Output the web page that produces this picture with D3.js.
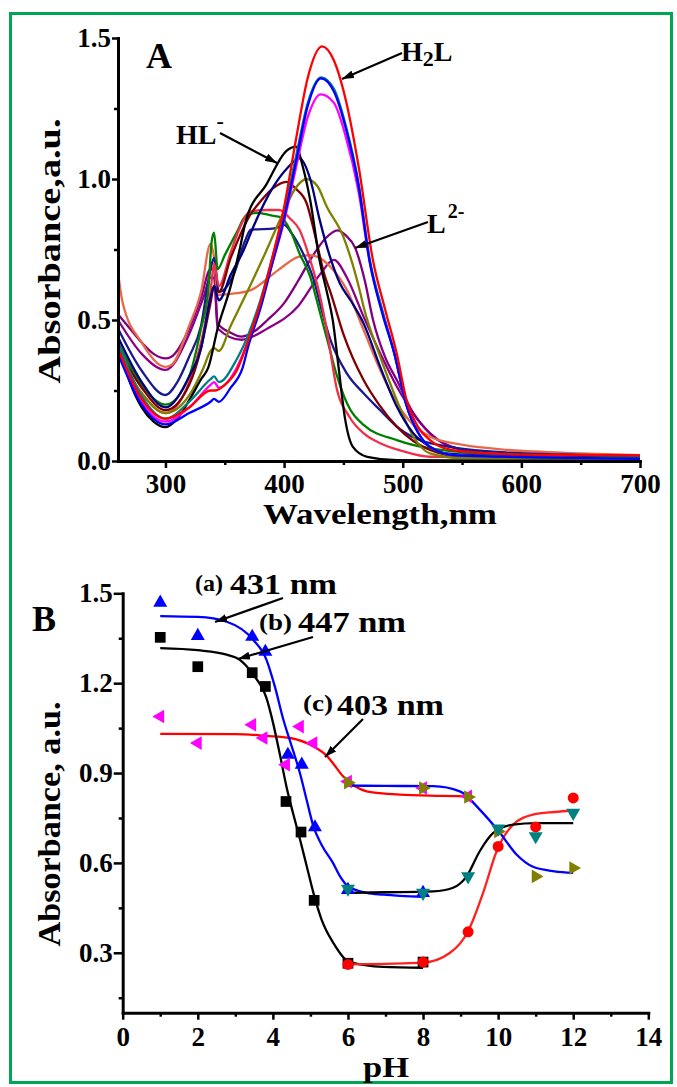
<!DOCTYPE html>
<html>
<head>
<meta charset="utf-8">
<script src="https://cdn.jsdelivr.net/npm/d3@7"></script>
<style>
body{margin:0;background:#fff;}
svg text{font-family:"Liberation Serif","Times New Roman",serif;font-weight:bold;}
</style>
</head>
<body>
<svg id="fig" width="677" height="1087"></svg>
<script>
// ---- panel A : UV-vis spectra, [wavelength nm, absorbance]
var specPurple2 = [[260,0.50],[280,0.38],[300,0.323],[320,0.45],[332,0.58],[338,0.65],[341,0.65],[344,0.47],[364,0.43],[386,0.47],[412,0.55],[430,0.66],[442,0.713],[453,0.65],[467,0.512],[481,0.382],[495,0.264],[509,0.169],[523,0.098],[551,0.039],[600,0.02],[700,0.015]];
var specPurple1 = [[260,0.52],[270,0.47],[280,0.42],[290,0.38],[300,0.364],[305,0.37],[320,0.47],[330,0.58],[338,0.68],[341,0.68],[344,0.488],[355,0.455],[364,0.441],[375,0.46],[386,0.50],[400,0.56],[412,0.64],[422,0.713],[435,0.79],[445,0.818],[452,0.80],[460,0.755],[468,0.64],[475,0.50],[485,0.37],[495,0.287],[509,0.169],[523,0.098],[551,0.039],[590,0.02],[700,0.015]];
var specCoral = [[260,0.67],[264,0.56],[280,0.42],[300,0.334],[305,0.34],[320,0.48],[330,0.60],[338,0.77],[341,0.72],[344,0.589],[360,0.595],[372,0.606],[395,0.677],[412,0.724],[422,0.73],[430,0.72],[439,0.689],[453,0.606],[467,0.465],[481,0.323],[495,0.205],[509,0.128],[523,0.086],[551,0.057],[590,0.039],[650,0.027],[700,0.021]];
var specNavy2 = [[260,0.47],[280,0.32],[300,0.234],[310,0.28],[320,0.37],[330,0.48],[338,0.68],[341,0.72],[345,0.60],[358,0.666],[367,0.78],[372,0.82],[392,0.825],[400,0.837],[406,0.81],[416,0.736],[425,0.642],[432,0.53],[439,0.43],[453,0.31],[467,0.24],[481,0.18],[495,0.122],[523,0.063],[590,0.03],[650,0.022],[700,0.018]];
var specGreen = [[260,0.42],[280,0.27],[300,0.20],[320,0.30],[330,0.47],[336,0.60],[339,0.78],[341,0.81],[344,0.68],[350,0.73],[360,0.81],[368,0.87],[378,0.88],[390,0.87],[397,0.865],[405,0.82],[413,0.736],[422,0.654],[430,0.53],[437,0.42],[444,0.31],[453,0.205],[467,0.128],[495,0.074],[523,0.045],[600,0.02],[700,0.015]];
var specCrimson = [[260,0.38],[280,0.24],[300,0.17],[320,0.28],[330,0.42],[338,0.60],[341,0.70],[345,0.62],[355,0.74],[362,0.82],[371,0.884],[385,0.89],[396,0.89],[405,0.86],[413,0.82],[422,0.713],[430,0.59],[437,0.44],[444,0.264],[455,0.157],[468,0.095],[481,0.063],[500,0.035],[523,0.015],[700,0.008]];
var specMaroon = [[260,0.40],[280,0.26],[300,0.18],[320,0.27],[330,0.40],[338,0.56],[341,0.62],[345,0.60],[355,0.72],[365,0.82],[371,0.87],[380,0.92],[390,0.965],[402,0.99],[410,0.965],[419,0.914],[427,0.784],[434,0.66],[439,0.60],[450,0.45],[467,0.287],[480,0.20],[495,0.122],[523,0.039],[551,0.015],[700,0.01]];
var specOlive = [[260,0.38],[280,0.24],[300,0.17],[322,0.246],[332,0.33],[338,0.39],[341,0.40],[345,0.39],[355,0.48],[367,0.583],[384,0.736],[399,0.878],[410,0.97],[419,1.0],[428,0.975],[436,0.902],[450,0.795],[464,0.60],[467,0.547],[481,0.37],[495,0.216],[509,0.086],[523,0.027],[550,0.01],[700,0.005]];
var specNavy1 = [[260,0.44],[280,0.28],[300,0.19],[320,0.30],[330,0.40],[338,0.58],[341,0.62],[345,0.57],[355,0.66],[366,0.748],[374,0.83],[391,0.973],[403,1.04],[413,1.073],[422,1.0],[430,0.855],[439,0.72],[447,0.63],[456,0.57],[467,0.488],[481,0.334],[495,0.193],[509,0.098],[523,0.05],[537,0.027],[600,0.015],[700,0.01]];
var specBlack = [[260,0.42],[270,0.28],[280,0.19],[290,0.14],[300,0.12],[310,0.15],[322,0.23],[330,0.29],[336,0.33],[344,0.47],[355,0.62],[362,0.74],[368,0.855],[385,0.98],[402,1.10],[410,1.115],[416,1.04],[422,0.925],[430,0.71],[436,0.60],[441,0.50],[446,0.33],[451,0.16],[458,0.05],[470,0.015],[495,0.003],[700,0.0]];
var specMagenta = [[260,0.40],[280,0.21],[300,0.14],[320,0.19],[338,0.27],[341,0.28],[345,0.26],[360,0.33],[370,0.43],[380,0.56],[390,0.70],[400,0.85],[410,1.04],[420,1.22],[431,1.30],[442,1.27],[452,1.15],[463,0.95],[472,0.71],[483,0.53],[493,0.38],[503,0.20],[513,0.10],[523,0.05],[545,0.02],[700,0.008]];
var specTeal = [[260,0.42],[280,0.23],[300,0.15],[320,0.21],[338,0.29],[341,0.30],[345,0.28],[360,0.36],[370,0.45],[380,0.57],[390,0.72],[400,0.88],[410,1.08],[420,1.27],[431,1.36],[442,1.32],[452,1.19],[463,0.98],[472,0.72],[483,0.53],[493,0.38],[503,0.20],[513,0.10],[523,0.05],[545,0.02],[700,0.008]];
var specBlue = [[260,0.38],[280,0.20],[300,0.13],[320,0.17],[338,0.21],[341,0.22],[345,0.21],[355,0.26],[365,0.33],[370,0.41],[380,0.54],[390,0.70],[400,0.86],[410,1.06],[420,1.26],[431,1.357],[442,1.31],[452,1.18],[463,0.97],[472,0.71],[483,0.52],[493,0.38],[503,0.20],[513,0.10],[523,0.05],[545,0.02],[700,0.008]];
var specH2L = [[260,0.40],[280,0.22],[300,0.15],[320,0.19],[338,0.25],[342,0.25],[350,0.27],[360,0.32],[370,0.43],[380,0.56],[390,0.72],[400,0.90],[410,1.14],[420,1.36],[432,1.47],[442,1.42],[452,1.28],[463,1.04],[475,0.71],[485,0.54],[495,0.38],[503,0.22],[513,0.12],[523,0.074],[540,0.04],[570,0.028],[620,0.022],[700,0.02]];

var spectraA = [specPurple2, specPurple1, specCoral, specNavy2, specGreen, specCrimson, specMaroon, specOlive, specNavy1, specBlack, specMagenta, specTeal, specBlue, specH2L];
var spectraColors = ["#8b008b","#800080","#e8684a","#1a1a90","#008000","#f03048","#800000","#808000","#000080","#000000","#ff00ff","#008080","#0000ff","#ff0000"];

var xTicksA = [300,400,500,600,700];
var xMinorA = [350,450,550,650];
var yTicksA = [0,0.5,1.0,1.5];
var yMinorA = [0.25,0.75,1.25];

// ---- panel B : absorbance vs pH
var pH431 = [1,2,3.45,3.8,4.4,4.77,5.12,6,8];
var abs431 = [1.469,1.358,1.355,1.305,0.961,0.928,0.719,0.51,0.50];
var pH447 = [1,2,3.45,3.8,4.35,4.75,5.1,6,8];
var abs447 = [1.353,1.255,1.235,1.189,0.805,0.703,0.475,0.265,0.269];
var pH403 = [1,2,3.45,3.75,4.35,4.72,5.08,6,8,9.2];
var abs403 = [1.089,1.0,1.061,1.017,0.928,1.055,1.0,0.872,0.85,0.822];
var pHhigh = [6,8,9.2,10,11,12];
var absRed = [0.261,0.269,0.37,0.655,0.72,0.817];
var absTeal = [0.514,0.50,0.555,0.715,0.689,0.767];
var absOlive = [0.868,0.85,0.82,0.705,0.555,0.583];

// fitted lines
var fit431 = [[1,1.424],[2,1.421],[2.77,1.405],[3.48,1.344],[3.83,1.278],[4.05,1.19],[4.28,1.078],[4.5,0.99],[4.72,0.90],[4.9,0.81],[5.08,0.722],[5.3,0.66],[5.6,0.60],[5.79,0.555],[6.0,0.522],[6.5,0.50],[6.94,0.494],[8,0.487]];
var fit447 = [[1,1.317],[2,1.31],[2.77,1.295],[3.12,1.278],[3.48,1.228],[3.83,1.15],[4.0,1.07],[4.19,0.96],[4.37,0.85],[4.55,0.76],[4.72,0.68],[4.9,0.59],[5.08,0.50],[5.3,0.41],[5.61,0.333],[6.0,0.272],[6.5,0.258],[6.94,0.253],[8,0.25]];
var fit403 = [[1,1.031],[3,1.03],[3.83,1.024],[4.46,1.017],[5.08,0.989],[5.43,0.958],[5.6,0.933],[5.87,0.889],[6.2,0.855],[6.5,0.839],[7.38,0.828],[8.5,0.824],[9.16,0.822]];
var fitOlive = [[6,0.858],[7,0.857],[8.27,0.856],[8.98,0.839],[9.51,0.778],[10.05,0.70],[10.49,0.628],[10.93,0.587],[11.5,0.572],[12,0.567]];
var fitTeal = [[6,0.50],[7,0.502],[8.27,0.505],[8.8,0.517],[9.16,0.555],[9.51,0.639],[9.87,0.70],[10.4,0.728],[11,0.733],[12,0.733]];
var fitRed = [[6,0.261],[7,0.263],[8,0.267],[8.72,0.30],[9.2,0.372],[9.6,0.50],[9.96,0.639],[10.4,0.728],[10.93,0.761],[11.5,0.77],[12,0.775]];

var xTicksB = [0,2,4,6,8,10,12,14];
var xMinorB = [1,3,5,7,9,11,13];
var yTicksB = [0.3,0.6,0.9,1.2,1.5];
var yMinorB = [0.15,0.45,0.75,1.05,1.35];

var svg = d3.select("#fig");
var FONT = '"Liberation Serif","Times New Roman",serif';

// green frame
svg.append("rect").attr("x",10.5).attr("y",13.5).attr("width",661).attr("height",1069)
	.attr("fill","#fff").attr("stroke","#00a651").attr("stroke-width",3);

var defs = svg.append("defs");
defs.append("marker").attr("id","arrow").attr("viewBox","0 0 12 8")
	.attr("refX",12).attr("refY",4).attr("markerWidth",12).attr("markerHeight",8)
	.attr("markerUnits","userSpaceOnUse").attr("orient","auto")
	.append("path").attr("d","M0,0L12,4L0,8Z").attr("fill","#000");

function styleAxis(g, size){
	g.attr("font-family",FONT).attr("font-size",size).attr("font-weight","bold");
	g.select(".domain").attr("stroke","#000").attr("stroke-width",3).attr("stroke-linecap","square");
	g.selectAll(".tick line").attr("stroke","#000").attr("stroke-width",2.5);
	g.selectAll(".tick text").attr("fill","#000");
}
function minorAxis(g){
	g.select(".domain").remove();
	g.selectAll(".tick line").attr("stroke","#000").attr("stroke-width",2.5);
}

function arrow(x1,y1,x2,y2){
	svg.append("line").attr("x1",x1).attr("y1",y1).attr("x2",x2).attr("y2",y2)
		.attr("stroke","#000").attr("stroke-width",2.2).attr("marker-end","url(#arrow)");
}

// ================= panel A =================
var xA = d3.scaleLinear().domain([260,700]).range([118,640]);
var yA = d3.scaleLinear().domain([0,1.5]).range([461,38]);

var lineA = d3.line().x(function(d){ return xA(d[0]); }).y(function(d){ return yA(d[1]); })
	.curve(d3.curveMonotoneX);

svg.append("g").selectAll("path").data(spectraA).enter().append("path")
	.attr("d", lineA).attr("fill","none")
	.attr("stroke", function(d,i){ return spectraColors[i]; })
	.attr("stroke-width",2.3).attr("stroke-linejoin","round");

svg.append("g").attr("transform","translate(0,461)")
	.call(d3.axisBottom(xA).tickValues(xMinorA).tickSize(4).tickFormat(""))
	.call(minorAxis);
svg.append("g").attr("transform","translate(118,0)")
	.call(d3.axisLeft(yA).tickValues(yMinorA).tickSize(4).tickFormat(""))
	.call(minorAxis);
svg.append("g").attr("transform","translate(0,461)")
	.call(d3.axisBottom(xA).tickValues(xTicksA).tickSize(7).tickSizeOuter(0).tickPadding(6))
	.call(styleAxis, 27);
svg.append("g").attr("transform","translate(118,0)")
	.call(d3.axisLeft(yA).tickValues(yTicksA).tickSize(6).tickSizeOuter(0).tickPadding(1).tickFormat(d3.format(".1f")))
	.call(styleAxis, 27);

svg.append("text").attr("x",380).attr("y",524).attr("text-anchor","middle")
	.attr("font-size",30).attr("textLength",234).attr("lengthAdjust","spacingAndGlyphs")
	.text("Wavelength,nm");
svg.append("text").attr("transform","translate(60,251) rotate(-90)").attr("text-anchor","middle")
	.attr("font-size",31).attr("textLength",265).attr("lengthAdjust","spacingAndGlyphs")
	.text("Absorbance,a.u.");
svg.append("text").attr("x",146).attr("y",68).attr("font-size",36).text("A");

// species labels
var tH2L = svg.append("text").attr("x",401).attr("y",61).attr("font-size",28);
tH2L.append("tspan").text("H");
tH2L.append("tspan").attr("font-size",22).attr("dy",5).text("2");
tH2L.append("tspan").attr("dy",-5).text("L");
arrow(402,53,342,79);

var tHL = svg.append("text").attr("x",176).attr("y",144).attr("font-size",28);
tHL.append("tspan").text("HL");
tHL.append("tspan").attr("font-size",22).attr("dy",-16).text("-");
arrow(220,133,277,163);

var tL = svg.append("text").attr("x",427).attr("y",233).attr("font-size",28);
tL.append("tspan").text("L");
tL.append("tspan").attr("font-size",20).attr("dx",2).attr("dy",-15).text("2-");
arrow(428,222,355,248);

// ================= panel B =================
var xB = d3.scaleLinear().domain([0,14]).range([122.7,648.3]);
var yB = d3.scaleLinear().domain([0.1,1.5]).range([1012.7,593.3]);

var lineB = d3.line().x(function(d){ return xB(d[0]); }).y(function(d){ return yB(d[1]); })
	.curve(d3.curveMonotoneX);

var fitsB = [
	{pts:fit403, color:"#ff0000"},
	{pts:fit447, color:"#000000"},
	{pts:fit431, color:"#0000ff"},
	{pts:fitRed, color:"#ff2020"},
	{pts:fitTeal, color:"#000000"},
	{pts:fitOlive, color:"#0000ff"}
];
svg.append("g").selectAll("path").data(fitsB).enter().append("path")
	.attr("d", function(d){ return lineB(d.pts); }).attr("fill","none")
	.attr("stroke", function(d){ return d.color; }).attr("stroke-width",2.3);

function scatter(px, py, shape, size, rot, color){
	var pts = px.map(function(p,i){ return [p, py[i]]; });
	svg.append("g").selectAll("path").data(pts).enter().append("path")
		.attr("d", d3.symbol().type(shape).size(size))
		.attr("transform", function(d){ return "translate(" + xB(d[0]) + "," + yB(d[1]) + ") rotate(" + rot + ")"; })
		.attr("fill", color);
}
scatter(pH447, abs447, d3.symbolSquare, 115, 0, "#000000");
scatter(pH431, abs431, d3.symbolTriangle, 85, 0, "#0000ff");
scatter(pH403, abs403, d3.symbolTriangle, 80, -90, "#ff00ff");
scatter(pHhigh, absRed, d3.symbolCircle, 95, 0, "#ff0000");
scatter(pHhigh, absOlive, d3.symbolTriangle, 80, 90, "#808000");
scatter(pHhigh, absTeal, d3.symbolTriangle, 85, 180, "#008080");

svg.append("g").attr("transform","translate(0,1012.7)")
	.call(d3.axisBottom(xB).tickValues(xMinorB).tickSize(4).tickFormat(""))
	.call(minorAxis);
svg.append("g").attr("transform","translate(122.7,0)")
	.call(d3.axisLeft(yB).tickValues(yMinorB).tickSize(4).tickFormat(""))
	.call(minorAxis);
svg.append("g").attr("transform","translate(0,1012.7)")
	.call(d3.axisBottom(xB).tickValues(xTicksB).tickSize(7).tickSizeOuter(0).tickPadding(7))
	.call(styleAxis, 27);
svg.append("g").attr("transform","translate(122.7,0)")
	.call(d3.axisLeft(yB).tickValues(yTicksB).tickSize(9).tickSizeOuter(0).tickPadding(1).tickFormat(d3.format(".1f")))
	.call(styleAxis, 27);

svg.append("text").attr("x",386).attr("y",1077).attr("text-anchor","middle")
	.attr("font-size",30).attr("textLength",46).attr("lengthAdjust","spacingAndGlyphs").text("pH");
svg.append("text").attr("transform","translate(60,824) rotate(-90)").attr("text-anchor","middle")
	.attr("font-size",31).attr("textLength",245).attr("lengthAdjust","spacingAndGlyphs")
	.text("Absorbance, a.u.");
svg.append("text").attr("x",32).attr("y",631).attr("font-size",36).text("B");

// wavelength labels
svg.append("text").attr("x",195).attr("y",591).attr("font-size",24)
	.attr("textLength",28).attr("lengthAdjust","spacingAndGlyphs").text("(a)");
svg.append("text").attr("x",230).attr("y",594).attr("font-size",29)
	.attr("textLength",107).attr("lengthAdjust","spacingAndGlyphs").text("431 nm");
arrow(283,598,215,622);

svg.append("text").attr("x",259).attr("y",630).attr("font-size",24)
	.attr("textLength",33).attr("lengthAdjust","spacingAndGlyphs").text("(b)");
svg.append("text").attr("x",298).attr("y",632).attr("font-size",29)
	.attr("textLength",108).attr("lengthAdjust","spacingAndGlyphs").text("447 nm");
arrow(313,637,238,659);

svg.append("text").attr("x",303).attr("y",711).attr("font-size",24)
	.attr("textLength",30).attr("lengthAdjust","spacingAndGlyphs").text("(c)");
svg.append("text").attr("x",337).attr("y",715).attr("font-size",29)
	.attr("textLength",107).attr("lengthAdjust","spacingAndGlyphs").text("403 nm");
arrow(363,719,325,757);
</script>
</body>
</html>
